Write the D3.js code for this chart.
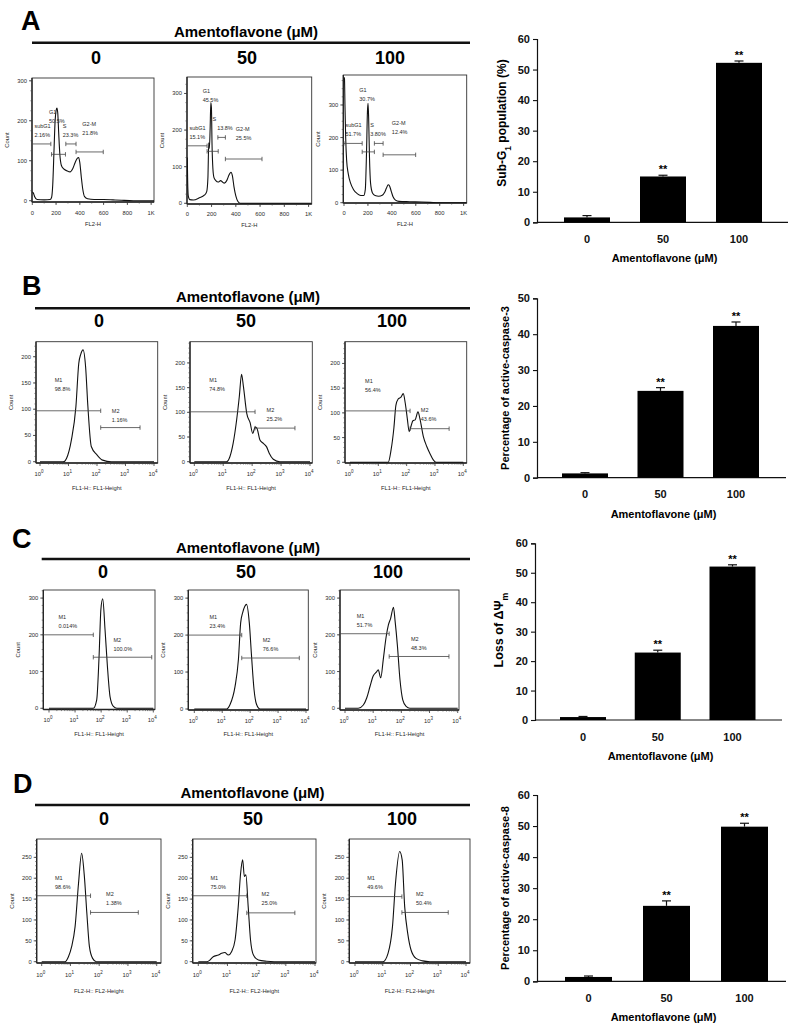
<!DOCTYPE html>
<html><head><meta charset="utf-8">
<script src="https://cdn.jsdelivr.net/npm/d3@7"></script>
<style>body{margin:0;background:#fff}svg{display:block}text{font-family:Arial,"Liberation Sans",sans-serif}</style>
</head><body><svg id="c" width="793" height="1029"></svg>
<script>
// ---------------- DATA ----------------
const doses = ["0", "50", "100"];
const headerTitle = "Amentoflavone (μM)";
const panelLetters = ["A", "B", "C", "D"];
const significance = ["", "**", "**"];

// bar charts (mean, SEM)
const subG1Mean = [1.6, 15.0, 52.2];
const subG1Err  = [0.6, 0.4, 0.6];
const casp3Mean = [1.2, 24.2, 42.3];
const casp3Err  = [0.2, 0.9, 1.1];
const mmpMean   = [1.0, 22.9, 52.1];
const mmpErr    = [0.2, 0.8, 0.6];
const casp8Mean = [1.4, 24.3, 49.8];
const casp8Err  = [0.3, 1.6, 1.1];
const barTicks60 = [0, 10, 20, 30, 40, 50, 60];
const barTicks50 = [0, 10, 20, 30, 40, 50];

// histogram tick labels
const linTicks = [0, 200, 400, 600, 800, 1000];
const linTickLabels = ["0", "200", "400", "600", "800", "1K"];
const logTicks = [1, 10, 100, 1000, 10000];
const logTickExp = ["0", "1", "2", "3", "4"];

// histogram curves: [channel, count]
const histA0 = [[0,22],[8,20],[20,10],[40,3],[100,2],[150,3],[162,8],[172,40],[182,120],[192,200],[200,225],[207,232],[214,220],[222,170],[232,115],[245,88],[262,80],[290,75],[318,72],[340,80],[360,95],[378,106],[390,108],[400,95],[412,60],[425,28],[440,10],[465,5],[520,3],[600,3],[680,2],[750,1],[850,0],[1024,0]];
const histA50 = [[0,125],[3,60],[8,20],[20,10],[50,9],[100,15],[140,22],[160,32],[170,70],[177,165],[182,150],[188,200],[194,275],[199,260],[204,160],[211,95],[220,70],[235,62],[255,58],[275,62],[290,58],[305,55],[325,62],[345,78],[360,85],[372,75],[385,45],[400,20],[415,6],[435,0],[1024,0]];
const histA100 = [[0,385],[4,380],[8,300],[14,200],[22,130],[35,90],[55,60],[80,40],[110,28],[140,22],[165,22],[178,40],[188,150],[196,280],[201,305],[206,260],[213,140],[222,60],[238,30],[260,22],[290,20],[320,23],[340,32],[355,45],[370,55],[380,52],[395,35],[410,18],[430,8],[460,4],[550,3],[650,2],[720,1],[800,0],[1024,0]];
const histB0 = [[1,0],[6.5,0],[7.4,1],[8.5,6],[12.6,41],[18.2,105],[22.9,187],[27,205],[32.4,213],[39.8,181],[47.9,105],[63,29],[100,13],[158,3],[316,0],[10000,0]];
const histB50 = [[1,0],[13,0],[17,10],[22,37],[29,84],[36,132],[43,177],[50,152],[65,98],[85,79],[105,57],[126,70],[145,68],[186,44],[245,37],[316,30],[389,17],[537,5],[912,0],[10000,0]];
const histB100 = [[1,0],[22.4,0],[28.2,25],[35.5,70],[41.7,115],[50.1,128],[63.1,132],[75.9,139],[89.1,120],[104.7,90],[123,62],[141,72],[166,84],[200,86],[251,102],[295,88],[389,52],[513,32],[661,18],[871,5],[1096,0],[10000,0]];
const histC0 = [[1,0],[50,0],[67.6,23],[83.2,141],[97.7,269],[114.8,298],[141,214],[174,114],[219,32],[295,5],[398,0],[10000,0]];
const histC50 = [[1,0],[14.5,0],[19.1,12],[28.8,61],[38,134],[45.7,233],[53.7,260],[64.6,278],[74.1,283],[93.3,233],[112.2,143],[138,52],[170,12],[224,0],[10000,0]];
const histC100 = [[1,0],[2.95,0],[4.47,9],[5.89,28],[7.76,60],[10,88],[13.2,99],[15.1,105],[18.6,83],[22.9,134],[28.8,194],[34.7,227],[41.7,245],[52.5,275],[60.3,236],[72.4,171],[89.1,79],[112.2,23],[148,5],[200,0],[10000,0]];
const histD0 = [[1,0],[6.46,0],[8.51,12],[11,36],[14.5,84],[19.1,188],[24.5,260],[30.2,208],[37.2,116],[45.7,36],[58.9,8],[79.4,0],[10000,0]];
const histD50 = [[1,0],[1.95,0],[2.51,4],[3.24,12],[4.9,16],[6.31,20],[8.13,22],[10.7,16],[13.8,24],[18.2,52],[23.4,132],[28.2,212],[33.1,244],[38,204],[42.7,208],[51.3,132],[61.7,52],[77.6,16],[115,4],[219,1],[398,0],[10000,0]];
const histD100 = [[1,0],[10.2,0],[15.5,20],[22.4,84],[28.8,188],[40.7,264],[50.1,244],[61.7,132],[79.4,68],[104.7,28],[158,8],[275,2],[501,0],[10000,0]];

// gates: [name, pct, from, to, level, labelX, labelY, pctX]
const gatesA0 = [["subG1","2.16%",0,156,142,18,186],["G1","50.5%",162,279,116,141,221],["S","23.3%",282,368,142,256,186],["G2-M","21.8%",368,597,122,421,192]];
const gatesA50 = [["subG1","15.1%",0,163,157,18,207],["G1","45.5%",163,255,142,127,307],["S","13.8%",252,314,180,207,231,246],["G2-M","25.5%",314,616,121,400,204]];
const gatesA100 = [["subG1","51.7%",0,152,182,12,240],["G1","30.7%",152,254,156,128,347],["S","3.80%",254,327,182,219,240],["G2-M","12.4%",327,599,147,400,246]];
const gatesB0 = [["M1","98.8%",null,135,97,3.3,155],["M2","1.16%",135,3236,65,331,97]];
const gatesB50 = [["M1","74.8%",null,126,101,3.3,165],["M2","25.2%",126,3020,68,316,105]];
const gatesB100 = [["M1","56.4%",null,132,104,3.4,165],["M2","43.6%",132,3162,68,316,106]];
const gatesC0 = [["M1","0.014%",null,50,200,2.3,249],["M2","100.0%",50,8710,139,295,187]];
const gatesC50 = [["M1","23.4%",null,50,200,3.5,249],["M2","76.6%",50,5754,138,282,188]];
const gatesC100 = [["M1","51.7%",null,37,203,2.6,250],["M2","48.3%",37,4898,141,219,188]];
const gatesD0 = [["M1","98.6%",null,50,158,2.9,201],["M2","1.38%",50,2291,118,174,162]];
const gatesD50 = [["M1","75.0%",null,46,158,2.6,201],["M2","25.0%",46,2042,117,148,162]];
const gatesD100 = [["M1","49.6%",null,49,156,2.75,201],["M2","50.4%",49,2291,118,158,162]];

// ---------------- DRAWING ----------------
const svg = d3.select("#c");
const INK = "#111";
const SMALL = "#2a2a2a";

function header(letter, lx, ly, tcx, tby, lineY, lineX0, doseY, doseX) {
  svg.append("text").attr("x", lx).attr("y", ly).attr("font-size", 27).attr("font-weight", "bold").text(letter);
  svg.append("text").attr("x", tcx).attr("y", tby).attr("text-anchor", "middle").attr("font-size", 15).attr("font-weight", "bold").text(headerTitle);
  svg.append("line").attr("x1", lineX0).attr("x2", 470).attr("y1", lineY).attr("y2", lineY).attr("stroke", INK).attr("stroke-width", 2.4);
  doses.forEach((d, i) => svg.append("text").attr("x", doseX[i]).attr("y", doseY).attr("text-anchor", "middle")
    .attr("font-size", 18).attr("font-weight", "bold").text(d));
}

let clipId = 0;
function histogram(cfg, curve, gates) {
  const [l, r, t, b] = cfg.box;
  const g = svg.append("g");
  const x = cfg.log ? d3.scaleLog().domain([1, 10000]).range(cfg.xr) : d3.scaleLinear().domain([0, 1024]).range(cfg.xr);
  const y = d3.scaleLinear().domain([0, cfg.yTop]).range([cfg.y0, t]);
  const cid = "clip" + (clipId++);
  g.append("clipPath").attr("id", cid).append("rect").attr("x", l).attr("y", t).attr("width", r - l).attr("height", b - t);
  g.append("rect").attr("x", l).attr("y", t).attr("width", r - l).attr("height", b - t)
    .attr("fill", "none").attr("stroke", "#333").attr("stroke-width", 0.9);
  g.append("line").attr("x1", l).attr("x2", l).attr("y1", t).attr("y2", b).attr("stroke", "#222").attr("stroke-width", 1.3);
  g.append("line").attr("x1", l).attr("x2", r).attr("y1", b).attr("y2", b).attr("stroke", "#222").attr("stroke-width", 1.3);
  // y ticks
  d3.range(0, cfg.yTop, cfg.yMinor).forEach(v => {
    g.append("line").attr("x1", l).attr("x2", l - 1.6).attr("y1", y(v)).attr("y2", y(v)).attr("stroke", "#444").attr("stroke-width", 0.6);
  });
  cfg.yTicks.forEach(v => {
    g.append("line").attr("x1", l).attr("x2", l - 3).attr("y1", y(v)).attr("y2", y(v)).attr("stroke", "#333").attr("stroke-width", 0.8);
    g.append("text").attr("x", l - 5).attr("y", y(v) + 2).attr("text-anchor", "end").attr("font-size", 5.8).attr("fill", SMALL).text(v);
  });
  // x ticks
  const xb = b + cfg.tickOff;
  if (cfg.log) {
    [1, 10, 100, 1000].forEach(dec => d3.range(2, 10).forEach(m => {
      g.append("line").attr("x1", x(dec * m)).attr("x2", x(dec * m)).attr("y1", b).attr("y2", b + 1.6).attr("stroke", "#444").attr("stroke-width", 0.6);
    }));
    logTicks.forEach((v, i) => {
      g.append("line").attr("x1", x(v)).attr("x2", x(v)).attr("y1", b).attr("y2", b + 3).attr("stroke", "#333").attr("stroke-width", 0.8);
      const tx = g.append("text").attr("x", x(v) - 1).attr("y", xb).attr("text-anchor", "middle").attr("font-size", 5.8).attr("fill", SMALL);
      tx.append("tspan").text("10");
      tx.append("tspan").attr("dy", -3).attr("font-size", 4.5).text(logTickExp[i]);
    });
  } else {
    d3.range(100, 1024, 100).forEach(v => {
      g.append("line").attr("x1", x(v)).attr("x2", x(v)).attr("y1", b).attr("y2", b + 1.6).attr("stroke", "#444").attr("stroke-width", 0.6);
    });
    linTicks.forEach((v, i) => {
      g.append("line").attr("x1", x(v)).attr("x2", x(v)).attr("y1", b).attr("y2", b + 3).attr("stroke", "#333").attr("stroke-width", 0.8);
      g.append("text").attr("x", x(v)).attr("y", xb).attr("text-anchor", "middle").attr("font-size", 5.8).attr("fill", SMALL).text(linTickLabels[i]);
    });
  }
  g.append("text").attr("transform", `translate(${l - 23},${(t + b) / 2}) rotate(-90)`).attr("text-anchor", "middle")
    .attr("font-size", 5.8).attr("fill", SMALL).text("Count");
  g.append("text").attr("x", (l + r) / 2).attr("y", b + cfg.titleOff).attr("text-anchor", "middle")
    .attr("font-size", 5.8).attr("fill", SMALL).text(cfg.xTitle);
  // curve
  const line = d3.line().x(d => x(d[0])).y(d => y(d[1])).curve(d3.curveMonotoneX);
  g.append("path").datum(curve).attr("d", line).attr("fill", "none").attr("stroke", INK).attr("stroke-width", 1.1)
    .attr("clip-path", `url(#${cid})`);
  // gates
  gates.forEach(gt => {
    const [name, pct, from, to, lev, lx, ly, px] = gt;
    const x1 = from === null ? l : x(from), x2 = x(to), yy = y(lev);
    g.append("line").attr("x1", x1).attr("x2", x2).attr("y1", yy).attr("y2", yy).attr("stroke", "#444").attr("stroke-width", 0.8);
    [x1, x2].forEach(xx => { if (xx > l + 0.5) g.append("line").attr("x1", xx).attr("x2", xx).attr("y1", yy - 2.2).attr("y2", yy + 2.2).attr("stroke", "#444").attr("stroke-width", 0.8); });
    g.append("text").attr("x", x(lx)).attr("y", y(ly) + 2).attr("font-size", 5.5).attr("fill", SMALL).text(name);
    g.append("text").attr("x", x(px !== undefined ? px : lx)).attr("y", y(ly) + 11).attr("font-size", 5.5).attr("fill", SMALL).text(pct);
  });
}

function barChart(cfg, means, errs, ticks) {
  const g = svg.append("g");
  const y = d3.scaleLinear().domain([0, cfg.yMax]).range([cfg.y0, cfg.yTopPx]);
  const [c0, c2] = cfg.centers;
  const step = (c2 - c0) / 2, p = 1 - cfg.bw / step;
  const x = d3.scaleBand().domain(doses).range([c0 - step / 2, c2 + step / 2]).paddingInner(p).paddingOuter(p / 2);
  const ya = g.append("g").attr("transform", `translate(${cfg.axisX},0)`)
    .call(d3.axisLeft(y).tickValues(ticks).tickSize(4).tickPadding(3).tickFormat(d3.format("d")));
  ya.select(".domain").attr("stroke", INK).attr("stroke-width", 1.2);
  ya.selectAll(".tick line").attr("stroke", INK).attr("stroke-width", 1.1);
  ya.selectAll(".tick text").attr("font-size", 11).attr("font-weight", "bold").attr("fill", INK).attr("font-family", "Arial, Liberation Sans, sans-serif");
  g.append("line").attr("x1", cfg.axisX).attr("x2", cfg.xEnd).attr("y1", cfg.y0).attr("y2", cfg.y0).attr("stroke", INK).attr("stroke-width", 1.2);
  const xa = g.append("g").attr("transform", `translate(0,${cfg.y0})`).call(d3.axisBottom(x).tickSize(0).tickPadding(13));
  xa.select(".domain").remove();
  xa.selectAll(".tick text").attr("font-size", 11).attr("font-weight", "bold").attr("fill", INK).attr("font-family", "Arial, Liberation Sans, sans-serif");
  g.selectAll("rect.bar").data(doses).enter().append("rect")
    .attr("x", d => x(d)).attr("width", x.bandwidth())
    .attr("y", (d, i) => y(means[i])).attr("height", (d, i) => cfg.y0 - y(means[i])).attr("fill", "#000");
  doses.forEach((d, i) => {
    const cx = x(d) + x.bandwidth() / 2, top = y(means[i] + errs[i]);
    g.append("line").attr("x1", cx).attr("x2", cx).attr("y1", y(means[i])).attr("y2", top).attr("stroke", INK).attr("stroke-width", 1.2);
    g.append("line").attr("x1", cx - 4.5).attr("x2", cx + 4.5).attr("y1", top).attr("y2", top).attr("stroke", INK).attr("stroke-width", 1.2);
    if (significance[i]) g.append("text").attr("x", cx).attr("y", top - 2).attr("text-anchor", "middle")
      .attr("font-size", 11).attr("font-weight", "bold").text(significance[i]);
  });
  g.append("text").attr("x", (cfg.axisX + cfg.xEnd) / 2 + 2).attr("y", cfg.y0 + 40).attr("text-anchor", "middle")
    .attr("font-size", 11).attr("font-weight", "bold").text(headerTitle);
  const yt = g.append("text").attr("transform", `translate(${cfg.ytx},${cfg.yty}) rotate(-90)`).attr("text-anchor", "middle")
    .attr("font-size", cfg.ytSize).attr("font-weight", "bold");
  cfg.yTitle.forEach(part => {
    const ts = yt.append("tspan").text(part[0]);
    if (part[1] === "sub") ts.attr("baseline-shift", "sub").attr("font-size", cfg.ytSize * 0.7);
  });
}

// ---------- Panel A ----------
header(panelLetters[0], 21, 30, 246, 37, 42.7, 32, 64, [96, 247, 390]);
histogram({box: [32, 154, 78, 202], xr: [32.3, 154], log: false, y0: 200.7, yTop: 307, yTicks: [0, 100, 200, 300], yMinor: 25, xTitle: "FL2-H", tickOff: 13, titleOff: 24}, histA0, gatesA0);
histogram({box: [187, 311.7, 77, 204], xr: [187.3, 311.5], log: false, y0: 203.3, yTop: 345, yTicks: [0, 100, 200, 300], yMinor: 25, xTitle: "FL2-H", tickOff: 12, titleOff: 23}, histA50, gatesA50);
histogram({box: [343.3, 466.7, 75, 203], xr: [344, 466.5], log: false, y0: 202.7, yTop: 392, yTicks: [0, 100, 200, 300], yMinor: 25, xTitle: "FL2-H", tickOff: 12, titleOff: 23}, histA100, gatesA100);
barChart({axisX: 537, y0: 222.3, yMax: 60, yTopPx: 39, xEnd: 788, centers: [587, 739], bw: 46,
  yTitle: [["Sub-G"], ["1", "sub"], [" population (%)"]], ytx: 506, yty: 123, ytSize: 12}, subG1Mean, subG1Err, barTicks60);

// ---------- Panel B ----------
header(panelLetters[1], 22, 295, 248, 301.7, 308.3, 35, 327.3, [99, 246, 392]);
histogram({box: [36, 157.7, 341.7, 463], xr: [40, 154], log: true, y0: 461.7, yTop: 228.6, yTicks: [0, 50, 100, 150, 200], yMinor: 10, xTitle: "FL1-H:: FL1-Height", tickOff: 12.5, titleOff: 27}, histB0, gatesB0);
histogram({box: [190, 312.3, 341.7, 463], xr: [194.3, 310], log: true, y0: 461.7, yTop: 243, yTicks: [0, 50, 100, 150, 200], yMinor: 10, xTitle: "FL1-H:: FL1-Height", tickOff: 12.5, titleOff: 27}, histB50, gatesB50);
histogram({box: [345, 466.7, 341.7, 463], xr: [350, 463.3], log: true, y0: 462.3, yTop: 244, yTicks: [0, 50, 100, 150, 200], yMinor: 10, xTitle: "FL1-H:: FL1-Height", tickOff: 12.5, titleOff: 27}, histB100, gatesB100);
barChart({axisX: 537, y0: 477.7, yMax: 50, yTopPx: 298.3, xEnd: 786, centers: [585, 736], bw: 46,
  yTitle: [["Percentage of active-caspase-3"]], ytx: 509, yty: 388, ytSize: 11}, casp3Mean, casp3Err, barTicks50);

// ---------- Panel C ----------
header(panelLetters[2], 12, 548, 248, 552.7, 559, 41.7, 578, [103, 246, 388]);
histogram({box: [43.3, 155, 590, 709.5], xr: [49, 153.3], log: true, y0: 708.3, yTop: 322, yTicks: [0, 100, 200, 300], yMinor: 20, xTitle: "FL1-H:: FL1-Height", tickOff: 12.5, titleOff: 26}, histC0, gatesC0);
histogram({box: [188.3, 308.3, 590, 710], xr: [194.3, 306], log: true, y0: 709, yTop: 322, yTicks: [0, 100, 200, 300], yMinor: 20, xTitle: "FL1-H:: FL1-Height", tickOff: 12.5, titleOff: 26}, histC50, gatesC50);
histogram({box: [340, 459, 590, 710], xr: [345, 457.7], log: true, y0: 708.3, yTop: 322, yTicks: [0, 100, 200, 300], yMinor: 20, xTitle: "FL1-H:: FL1-Height", tickOff: 12.5, titleOff: 26}, histC100, gatesC100);
barChart({axisX: 535, y0: 720, yMax: 60, yTopPx: 543.3, xEnd: 782, centers: [583, 732.5], bw: 46,
  yTitle: [["Loss of ΔΨ"], ["m", "sub"]], ytx: 503, yty: 630, ytSize: 12.5}, mmpMean, mmpErr, barTicks60);

// ---------- Panel D ----------
header(panelLetters[3], 13, 793, 252.5, 798, 805, 35, 825, [104, 253, 402]);
histogram({box: [36.7, 161, 839, 963], xr: [41.7, 156.7], log: true, y0: 961.7, yTop: 294, yTicks: [0, 50, 100, 150, 200, 250], yMinor: 10, xTitle: "FL2-H:: FL2-Height", tickOff: 13.5, titleOff: 30}, histD0, gatesD0);
histogram({box: [192.7, 316, 839, 963], xr: [198.3, 315], log: true, y0: 961.7, yTop: 294, yTicks: [0, 50, 100, 150, 200, 250], yMinor: 10, xTitle: "FL2-H:: FL2-Height", tickOff: 13.5, titleOff: 30}, histD50, gatesD50);
histogram({box: [349.3, 470, 839, 963], xr: [355, 466], log: true, y0: 961.7, yTop: 294, yTicks: [0, 50, 100, 150, 200, 250], yMinor: 10, xTitle: "FL2-H:: FL2-Height", tickOff: 13.5, titleOff: 30}, histD100, gatesD100);
barChart({axisX: 537, y0: 981.3, yMax: 60, yTopPx: 795, xEnd: 786, centers: [588.5, 744.5], bw: 47,
  yTitle: [["Percentage of active-caspase-8"]], ytx: 509, yty: 888, ytSize: 11}, casp8Mean, casp8Err, barTicks60);
</script></body></html>
